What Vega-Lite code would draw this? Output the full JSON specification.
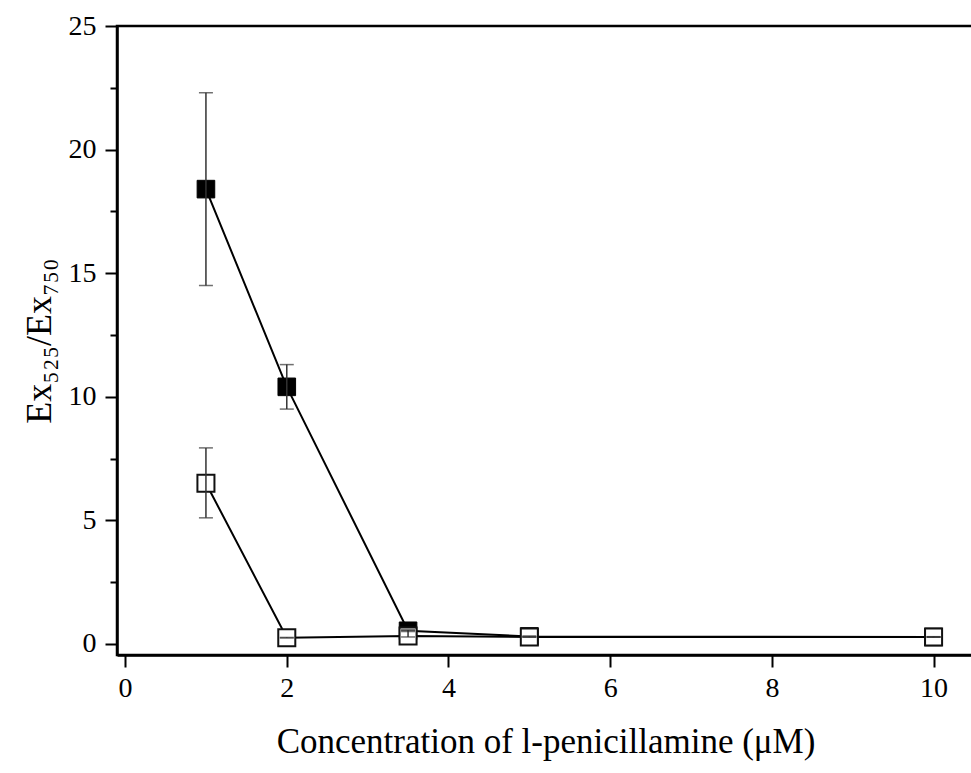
{
  "$schema": "https://vega.github.io/schema/vega-lite/v6.json",
  "width": 857,
  "height": 629,
  "autosize": {"type": "none"},
  "padding": {"left": 117, "top": 26, "right": 0, "bottom": 118},
  "background": "white",
  "view": {"stroke": "black", "strokeWidth": 2.5},
  "config": {
    "font": "Liberation Serif",
    "axis": {
      "grid": false,
      "domainColor": "black",
      "domainWidth": 2.5,
      "tickColor": "black",
      "tickWidth": 2,
      "tickSize": 12,
      "labelFont": "Liberation Serif",
      "labelFontSize": 28,
      "labelColor": "black",
      "titleFont": "Liberation Serif, DejaVu Serif",
      "titleFontSize": 35,
      "titleFontWeight": "normal",
      "titleColor": "black"
    }
  },
  "data": {
    "values": [
      {"x": 1, "y": 18.4, "lo": 14.5, "hi": 22.3, "series": "filled"},
      {"x": 2, "y": 10.4, "lo": 9.5, "hi": 11.3, "series": "filled"},
      {"x": 3.5, "y": 0.53, "lo": 0.5, "hi": 0.56, "series": "filled"},
      {"x": 5, "y": 0.3, "lo": 0.28, "hi": 0.32, "series": "filled"},
      {"x": 10, "y": 0.28, "lo": 0.27, "hi": 0.29, "series": "filled"},
      {"x": 1, "y": 6.5, "lo": 5.1, "hi": 7.93, "series": "open"},
      {"x": 2, "y": 0.25, "lo": 0.24, "hi": 0.26, "series": "open"},
      {"x": 3.5, "y": 0.32, "lo": 0.28, "hi": 0.55, "series": "open"},
      {"x": 5, "y": 0.28, "lo": 0.27, "hi": 0.29, "series": "open"},
      {"x": 10, "y": 0.28, "lo": 0.27, "hi": 0.29, "series": "open"}
    ]
  },
  "encoding": {
    "x": {
      "field": "x",
      "type": "quantitative",
      "scale": {"domain": [-0.1, 10.5], "nice": false, "zero": false},
      "axis": {
        "values": [0, 2, 4, 6, 8, 10],
        "title": "Concentration of l-penicillamine (μM)",
        "labelPadding": 7,
        "titlePadding": 22
      }
    },
    "y": {
      "field": "y",
      "type": "quantitative",
      "scale": {"domain": [-0.45, 25], "nice": false, "zero": false},
      "axis": {
        "values": [0, 2.5, 5, 7.5, 10, 12.5, 15, 17.5, 20, 22.5, 25],
        "labelExpr": "datum.value % 5 === 0 ? datum.label : ''",
        "tickSize": {"condition": {"test": "datum.value % 5 === 0", "value": 12}, "value": 7},
        "labelPadding": 9,
        "title": "Ex₅₂₅/Ex₇₅₀",
        "titleFontSize": 36,
        "titlePadding": 10
      }
    }
  },
  "layer": [
    {
      "mark": {"type": "line", "color": "black", "strokeWidth": 2},
      "encoding": {"detail": {"field": "series"}}
    },
    {
      "transform": [{"filter": "datum.series === 'filled'"}],
      "mark": {"type": "point", "shape": "square", "filled": true, "fill": "black", "stroke": "black", "strokeWidth": 1, "size": 310, "opacity": 1}
    },
    {
      "transform": [{"filter": "datum.series === 'open'"}],
      "mark": {"type": "point", "shape": "square", "filled": true, "fill": "white", "stroke": "#111", "strokeWidth": 2, "size": 290, "opacity": 1}
    },
    {
      "mark": {"type": "errorbar", "color": "#333", "thickness": 1.5, "ticks": {"size": 14, "thickness": 1.5, "color": "#333"}},
      "encoding": {
        "y": {"field": "lo", "type": "quantitative"},
        "y2": {"field": "hi"}
      }
    }
  ]
}
